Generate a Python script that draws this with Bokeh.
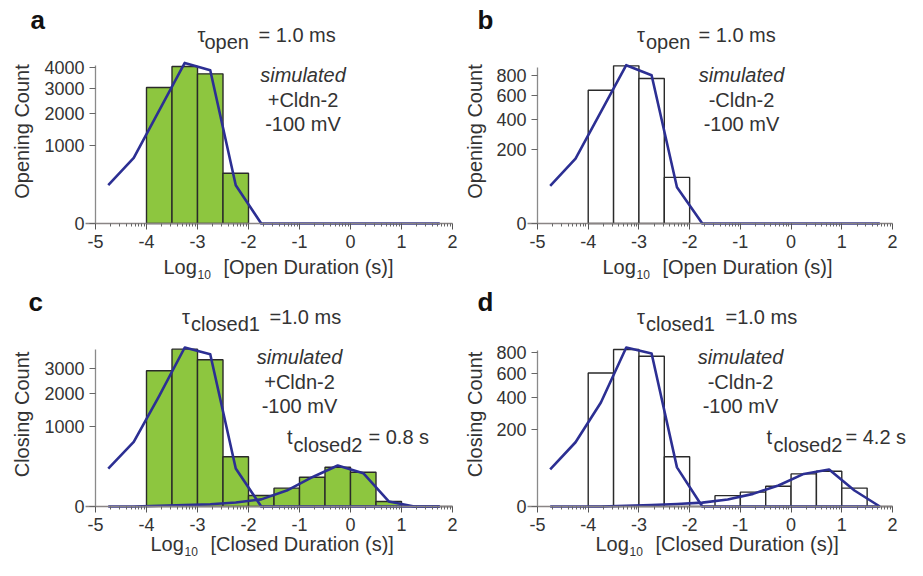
import numpy as np
from bokeh.plotting import figure
from bokeh.models import (FixedTicker, CustomJSTickFormatter, Label, Range1d,
                          ColumnDataSource, LinearAxis)
from bokeh.layouts import row, column
from bokeh.embed import file_html
from bokeh.resources import INLINE

# ---------------- data ----------------
open_bin_left = [-4.0, -3.5, -3.0, -2.5]
open_count_plus = [3030, 4040, 3670, 415]      # panel a (+Cldn-2)
open_count_minus = [652, 912, 772, 78]         # panel b (-Cldn-2)

closed_bin_left = [-4.0, -3.5, -3.0, -2.5, -2.0, -1.5, -1.0, -0.5, 0.0, 0.5, 1.0, 1.5]
closed_count_plus = [2900, 3900, 3390, 390, 19, 53, 135, 243, 185, 4, 0, 0]      # panel c
closed_count_minus = [605, 836, 766, 84, 0, 4, 7, 14, 36, 42, 11.5, 0]           # panel d

bin_width = 0.5

fit_x = [-4.75, -4.25, -3.75, -3.25, -2.75, -2.25, -1.75, -1.25, -0.75, -0.25, 0.25, 0.75, 1.25, 1.75]
fit_open_plus = [240, 706, 2100, 4228, 3853, 240, 0, 0, 0, 0, 0, 0, 0, 0]
fit_open_minus = [52, 155, 457, 920, 807, 48, 0, 0, 0, 0, 0, 0, 0, 0]
fit_closed_plus_fast = [227, 659, 1930, 3981, 3654, 227, 0, 0, 0, 0, 0, 0, 0, 0]
fit_closed_plus_slow = [0, 0, 0.1, 0.3, 0.85, 2.5, 8, 40, 135, 265, 175, 4, 0, 0]
fit_closed_minus_fast = [47, 140, 367, 857, 794, 52, 0, 0, 0, 0, 0, 0, 0, 0]
fit_closed_minus_slow = [0, 0, 0, 0.02, 0.08, 0.2, 0.5, 1.7, 5.4, 15, 36, 46.4, 8.7, 0]

x_major_ticks = [-5, -4, -3, -2, -1, 0, 1, 2]
x_axis_start, x_axis_end = -5.2, 2.0
y_ticks_a = [0, 1000, 2000, 3000, 4000]
y_ticks_b = [0, 200, 400, 600, 800]
y_ticks_c = [0, 1000, 2000, 3000]
y_ticks_d = [0, 200, 400, 600, 800]
y_axis_top = {"a": 4100, "b": 894, "c": 3896, "d": 822}

# ---------------- style ----------------
FONT = "Liberation Sans"
TXT = "#333333"
GREEN = "#8dc63f"
BLUE = "#2c2f93"
EDGE = "#2a2a2a"
FS = 20

minor_ticks = [d + np.log10(k) for d in range(-5, 2) for k in range(2, 10)]


def make_panel(box, xm5, x2, zero_y, k, ytop, yticks):
    """box: layout box (l, t, r, b); xm5/x2: x pixel of -5 and 2; zero_y: y pixel of count 0;
    k: pixels per sqrt(count)."""
    bl, bt, br, bb = box
    ppu = (x2 - xm5) / 7.0
    xr = Range1d(-5 + (bl - xm5) / ppu, -5 + (br - xm5) / ppu)
    yr = Range1d((zero_y - bb) / k, (zero_y - bt) / k)
    p = figure(width=br - bl, height=bb - bt, x_range=xr, y_range=yr,
               min_border_left=0, min_border_right=0, min_border_top=0, min_border_bottom=0,
               x_axis_location=None, y_axis_location=None,
               output_backend="svg", toolbar_location=None, tools="")
    p.grid.visible = False
    p.outline_line_color = None
    p.background_fill_color = "white"
    p.border_fill_color = "white"

    xa = LinearAxis(fixed_location=0.0, bounds=(x_axis_start, x_axis_end))
    xa.ticker = FixedTicker(ticks=x_major_ticks, minor_ticks=minor_ticks)
    xa.formatter = CustomJSTickFormatter(code="return String(tick);")
    xa.axis_line_color = "#8a8585"
    xa.axis_line_width = 1.3
    xa.major_tick_line_color = "#555555"
    xa.minor_tick_line_color = "#666666"
    xa.major_tick_out = 6
    xa.major_tick_in = 0
    xa.minor_tick_out = 3
    xa.minor_tick_in = 0
    xa.major_label_text_font = FONT
    xa.major_label_text_font_size = "18px"
    xa.major_label_text_color = TXT
    xa.major_label_standoff = 5
    p.add_layout(xa, "below")

    ya = LinearAxis(fixed_location=-5.0, bounds=(0.0, float(np.sqrt(ytop))))
    ya.ticker = FixedTicker(ticks=[float(np.sqrt(v)) for v in yticks])
    ya.formatter = CustomJSTickFormatter(code="return String(Math.round(tick*tick));")
    ya.axis_line_color = "#8a8a8a"
    ya.axis_line_width = 1.3
    ya.major_tick_line_color = "#666666"
    ya.major_tick_out = 6
    ya.major_tick_in = 0
    ya.minor_tick_line_color = None
    ya.major_label_text_font = FONT
    ya.major_label_text_font_size = "18px"
    ya.major_label_text_color = TXT
    ya.major_label_standoff = 5
    p.add_layout(ya, "left")
    p._anchor = (xm5, zero_y)
    return p


def add_label(p, text, X, Y, size=FS, align="left", style="normal", color=TXT,
              angle=0.0, centered=False):
    """X: left/center x in pixels; Y: text baseline in pixels (or centre if centered)."""
    ax, ay = p._anchor
    ymid = Y if centered else Y - 0.35 * size
    p.add_layout(Label(x=-5.0, y=0.0, x_offset=X - ax, y_offset=ay - ymid, text=text,
                       text_font=FONT, text_font_size=f"{size}px", text_align=align,
                       text_baseline="middle", text_font_style=style, text_color=color,
                       angle=angle))


def bars(p, lefts, counts, fill):
    src = ColumnDataSource(dict(left=lefts, right=[l + bin_width for l in lefts],
                                top=[float(np.sqrt(c)) for c in counts],
                                bottom=[0.0] * len(lefts)))
    p.quad(left="left", right="right", top="top", bottom="bottom", source=src,
           fill_color=fill, line_color=EDGE, line_width=1.4)


def fit_line(p, ys):
    p.line(fit_x, [float(np.sqrt(v)) for v in ys], line_color=BLUE, line_width=2.6,
           line_join="round")


def annotate(p, letter, lx, oy, tau_sub, tau_x, sub_x, eq_x, eq_text,
             center_x, cond, ylabel, ylab_x, ylab_y, xlab_left, xlab_base, xlab_word):
    add_label(p, letter, lx, 29 + oy, size=26, style="bold", color="#111111")
    add_label(p, "\u03c4", tau_x, 41.5 + oy)
    add_label(p, tau_sub, sub_x, 48.5 + oy)
    add_label(p, eq_text, eq_x, 41.5 + oy)
    add_label(p, "simulated", center_x, 81.7 + oy, align="center", style="italic")
    add_label(p, cond, center_x, 106.5 + oy, align="center")
    add_label(p, "-100 mV", center_x, 130.5 + oy, align="center")
    add_label(p, ylabel, ylab_x, ylab_y, align="center", angle=np.pi / 2, centered=True)
    add_label(p, "Log", xlab_left, xlab_base)
    add_label(p, "10", xlab_left + 34, xlab_base + 5, size=12)
    add_label(p, xlab_word, xlab_left + 60, xlab_base)


SH = 8  # upward shift of the bottom row so that it fits in the page

# ---------------- panel a ----------------
pa = make_panel((0, 0, 460, 282), 95, 452, 223, 2.47, y_axis_top["a"], y_ticks_a)
bars(pa, open_bin_left, open_count_plus, GREEN)
fit_line(pa, fit_open_plus)
annotate(pa, "a", 30, 0, "open", 197, 204, 258, "= 1.0 ms", 302.5, "+Cldn-2",
         "Opening Count", 21, 131, 163, 273, "[Open Duration (s)]")

# ---------------- panel b ----------------
pb = make_panel((460, 0, 907, 282), 537, 892, 223, 5.22, y_axis_top["b"], y_ticks_b)
bars(pb, open_bin_left, open_count_minus, "white")
fit_line(pb, fit_open_minus)
annotate(pb, "b", 477, 0, "open", 636.5, 645.5, 698, "= 1.0 ms", 741, "-Cldn-2",
         "Opening Count", 474, 131, 602, 273, "[Open Duration (s)]")

# ---------------- panel c ----------------
pc = make_panel((0, 282, 460, 560), 95, 452, 514 - SH, 2.52, y_axis_top["c"], y_ticks_c)
bars(pc, closed_bin_left, closed_count_plus, GREEN)
fit_line(pc, fit_closed_plus_fast)
fit_line(pc, fit_closed_plus_slow)
annotate(pc, "c", 28, 290 - SH, "closed1", 181.5, 190.5, 269, "=1.0 ms", 299, "+Cldn-2",
         "Closing Count", 21, 422 - SH, 150, 550, "[Closed Duration (s)]")
add_label(pc, "t", 286.5, 451.7 - SH)
add_label(pc, "closed2", 293, 459 - SH)
add_label(pc, "= 0.8 s", 368, 451.7 - SH)

# ---------------- panel d ----------------
pd = make_panel((460, 282, 907, 560), 537, 892, 514 - SH, 5.43, y_axis_top["d"], y_ticks_d)
bars(pd, closed_bin_left, closed_count_minus, "white")
fit_line(pd, fit_closed_minus_fast)
fit_line(pd, fit_closed_minus_slow)
annotate(pd, "d", 477, 290 - SH, "closed1", 636.5, 645.5, 725, "=1.0 ms", 740, "-Cldn-2",
         "Closing Count", 474, 422 - SH, 595, 550, "[Closed Duration (s)]")
add_label(pd, "t", 766, 451.7 - SH)
add_label(pd, "closed2", 773, 459 - SH)
add_label(pd, "= 4.2 s", 845, 451.7 - SH)

layout = column(row(pa, pb), row(pc, pd))
open("out.html", "w").write(file_html(layout, INLINE))
